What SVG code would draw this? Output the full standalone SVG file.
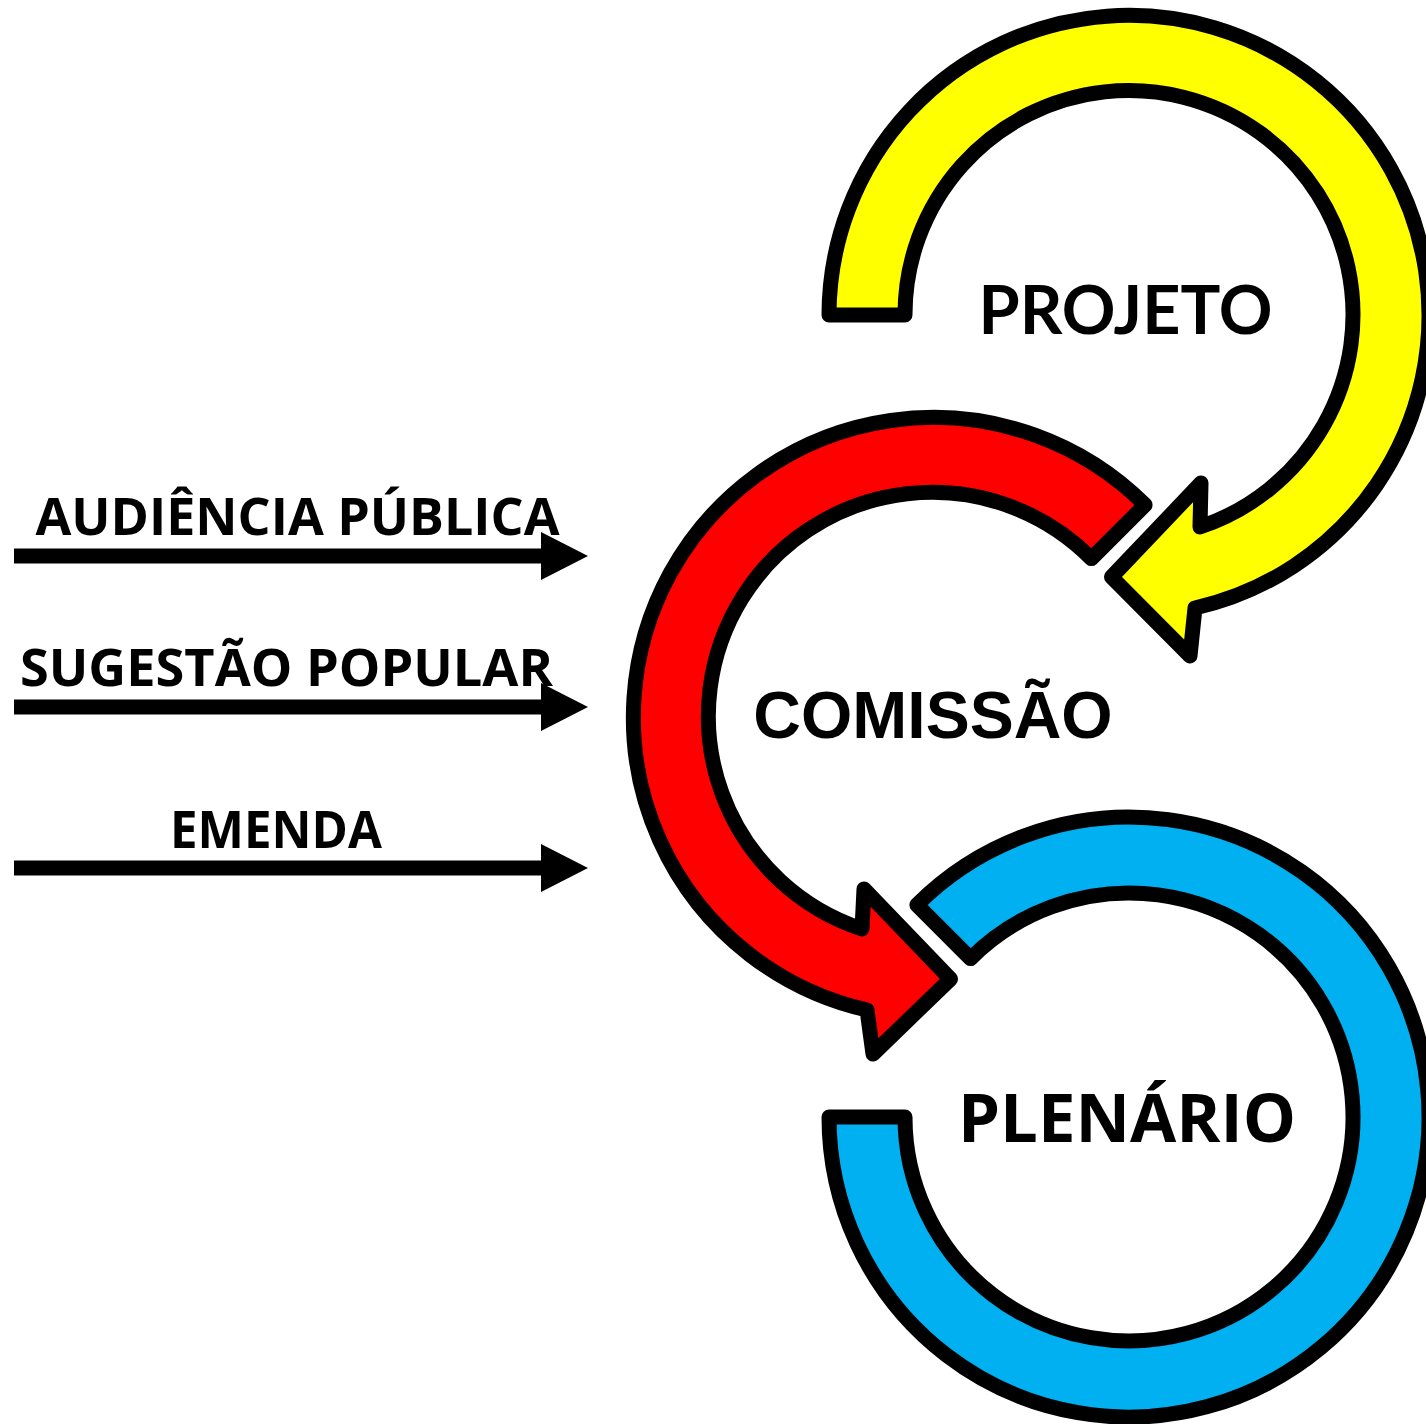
<svg xmlns="http://www.w3.org/2000/svg" width="1426" height="1424" viewBox="0 0 1426 1424">
  <style>
    .ring { stroke: #000; stroke-width: 15; stroke-linejoin: round; }
    .yellow { fill: #FFFF00; }
    .red { fill: #FF0000; }
    .blue { fill: #00B0F0; }
    .title { fill: #000; font-weight: 700; font-size: 66px; text-anchor: middle; }
    .lbl { fill: #000; font-family: "Open Sans", "Noto Sans", sans-serif; font-weight: 700; font-size: 52px; text-anchor: middle; }
    .conn { stroke: #000; stroke-width: 15; fill: none; }
  </style>
  <defs>
    <marker id="head" markerUnits="userSpaceOnUse" markerWidth="47" markerHeight="48" viewBox="0 0 47 48" refX="0" refY="24" orient="auto">
      <path d="M0,0 L47,24 L0,48 Z" fill="#000"/>
    </marker>
  </defs>
  <rect width="1426" height="1424" fill="#fff"/>

  <g id="node-plenario">
    <path class="ring blue" d="M 916.9 904.9 A 300 300 0 1 1 829 1117 L 905 1117 A 224 224 0 1 0 970.6 958.6 Z"/>
    <text class="title" x="1127" y="1142" textLength="338" lengthAdjust="spacingAndGlyphs" style="font-family: 'Open Sans', 'Noto Sans', sans-serif;">PLENÁRIO</text>
  </g>

  <g id="node-comissao">
    <path class="ring red" d="M 1145.1 504.9 A 300 300 0 1 0 867 1010 L 873 1054 L 950.5 979 L 864 889 L 862 929 A 224 224 0 1 1 1091.4 558.6 Z"/>
    <text class="title" x="933" y="738" style="font-family: 'Liberation Sans', Arial, sans-serif;">COMISSÃO</text>
  </g>

  <g id="node-projeto">
    <path class="ring yellow" d="M 829 315 A 300 300 0 1 1 1195 608 L 1190 656 L 1111.5 577 L 1201 483 L 1200 527 A 224 224 0 1 0 905 315 Z"/>
    <text class="title" x="1125.5" y="334" textLength="294" lengthAdjust="spacingAndGlyphs" style="font-family: Lato, 'Open Sans', sans-serif;">PROJETO</text>
  </g>

  <g id="connectors">
    <g id="edge-audiencia">
      <line class="conn" x1="14" y1="556" x2="541" y2="556" marker-end="url(#head)"/>
      <text class="lbl" x="297.5" y="535" textLength="524" lengthAdjust="spacingAndGlyphs">AUDIÊNCIA PÚBLICA</text>
    </g>
    <g id="edge-sugestao">
      <line class="conn" x1="14" y1="707" x2="541" y2="707" marker-end="url(#head)"/>
      <text class="lbl" x="286.5" y="686" textLength="533" lengthAdjust="spacingAndGlyphs">SUGESTÃO POPULAR</text>
    </g>
    <g id="edge-emenda">
      <line class="conn" x1="14" y1="868" x2="541" y2="868" marker-end="url(#head)"/>
      <text class="lbl" x="276" y="848" textLength="212" lengthAdjust="spacingAndGlyphs">EMENDA</text>
    </g>
  </g>
</svg>
